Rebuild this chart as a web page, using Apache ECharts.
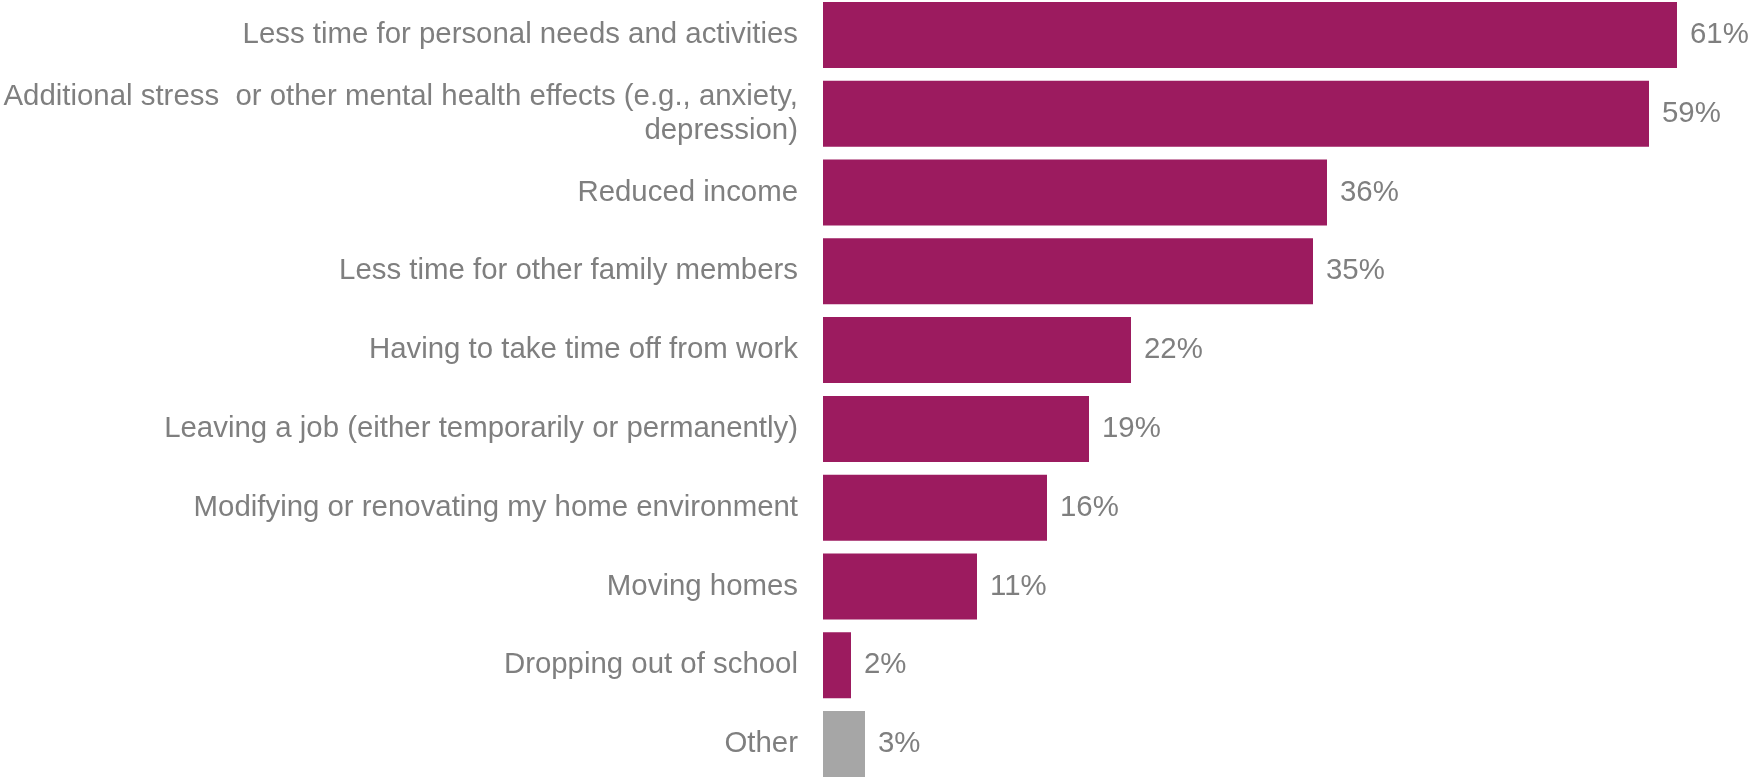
<!DOCTYPE html>
<html>
<head>
<meta charset="utf-8">
<style>
  html, body { margin: 0; padding: 0; background: #ffffff; }
  #chart { width: 1754px; height: 777px; }
</style>
<script src="https://cdn.jsdelivr.net/npm/echarts@6/dist/echarts.min.js"></script>
</head>
<body>
<div id="chart"></div>
<script>
// Impacts reported, share of respondents (%)
const categories = [
  'Less time for personal needs and activities',
  'Additional stress  or other mental health effects (e.g., anxiety,\ndepression)',
  'Reduced income',
  'Less time for other family members',
  'Having to take time off from work',
  'Leaving a job (either temporarily or permanently)',
  'Modifying or renovating my home environment',
  'Moving homes',
  'Dropping out of school',
  'Other'
];
const values = [61, 59, 36, 35, 22, 19, 16, 11, 2, 3];

const BAR_COLOR = '#9c1b5f';
const OTHER_COLOR = '#a6a6a6';
const TEXT_COLOR = '#7f7f7f';
const FONT = 'Arial, "Liberation Sans", sans-serif';

const chart = echarts.init(document.getElementById('chart'), null, { renderer: 'canvas' });

// Categories sit on tick points (no boundary gap) so the first and last
// bars can run right up to the top and bottom edges of the canvas.
chart.setOption({
  animation: false,
  backgroundColor: '#ffffff',
  grid: { left: 823, right: 21, top: 35, bottom: 33, containLabel: false },
  xAxis: {
    type: 'value',
    min: 0,
    max: 65,
    show: false
  },
  yAxis: {
    type: 'category',
    inverse: true,
    boundaryGap: false,
    data: categories,
    axisLine: { show: false },
    axisTick: { show: false },
    splitLine: { show: false },
    axisLabel: {
      margin: 25,
      color: TEXT_COLOR,
      fontFamily: FONT,
      fontSize: 29.4,
      lineHeight: 34,
      padding: [4, 0, 0, 0],
      align: 'right'
    }
  },
  series: [{
    type: 'bar',
    data: values,
    barWidth: 66,
    itemStyle: {
      color: (p) => categories[p.dataIndex] === 'Other' ? OTHER_COLOR : BAR_COLOR
    },
    label: {
      show: true,
      position: 'right',
      distance: 13,
      formatter: '{c}%',
      color: TEXT_COLOR,
      fontFamily: FONT,
      fontSize: 29.4
    }
  }]
});
</script>
</body>
</html>
